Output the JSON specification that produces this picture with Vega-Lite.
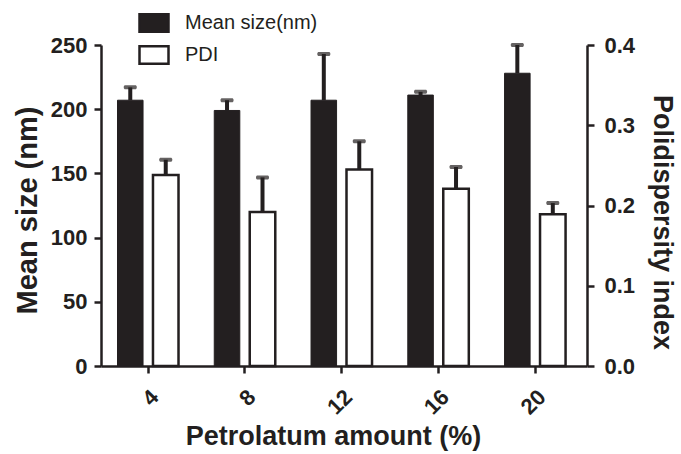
{
  "$schema": "https://vega.github.io/schema/vega-lite/v6.json",
  "width": 486,
  "height": 321,
  "autosize": {"type": "none"},
  "padding": {"left": 101, "top": 45, "right": 94, "bottom": 88},
  "background": "white",
  "config": {
    "view": {"stroke": null},
    "font": "Liberation Sans",
    "axis": {
      "grid": false,
      "domainColor": "#231f20",
      "domainWidth": 2.5,
      "tickColor": "#231f20",
      "tickWidth": 2.5,
      "tickSize": 7,
      "labelFont": "Liberation Sans",
      "labelFontWeight": "bold",
      "labelFontSize": 22,
      "labelColor": "#231f20",
      "titleFont": "Liberation Sans",
      "titleFontWeight": "bold",
      "titleFontSize": 26,
      "titleColor": "#231f20"
    }
  },
  "data": {
    "values": [
      {"amount": "4", "series": "Mean size(nm)", "value": 207, "upper": 217},
      {"amount": "8", "series": "Mean size(nm)", "value": 199, "upper": 207},
      {"amount": "12", "series": "Mean size(nm)", "value": 207, "upper": 243},
      {"amount": "16", "series": "Mean size(nm)", "value": 211, "upper": 213.5},
      {"amount": "20", "series": "Mean size(nm)", "value": 228, "upper": 250},
      {"amount": "4", "series": "PDI", "value": 0.238, "upper": 0.257},
      {"amount": "8", "series": "PDI", "value": 0.192, "upper": 0.235},
      {"amount": "12", "series": "PDI", "value": 0.245, "upper": 0.280},
      {"amount": "16", "series": "PDI", "value": 0.221, "upper": 0.248},
      {"amount": "20", "series": "PDI", "value": 0.189, "upper": 0.203}
    ]
  },
  "encoding": {
    "x": {
      "field": "amount",
      "type": "nominal",
      "sort": ["4", "8", "12", "16", "20"],
      "scale": {"paddingInner": 0.3695, "paddingOuter": 0.196, "align": 0.435},
      "axis": {"title": "Petrolatum amount (%)", "labelAngle": -45, "labelPadding": 13, "titleFontSize": 27, "titleX": 232, "titleY": 57}
    },
    "xOffset": {
      "field": "series",
      "type": "nominal",
      "sort": ["Mean size(nm)", "PDI"],
      "scale": {"paddingInner": 0.28, "paddingOuter": 0}
    }
  },
  "layer": [
    {
      "transform": [{"filter": "datum.series === 'Mean size(nm)'"}],
      "layer": [
        {
          "mark": {"type": "bar", "stroke": "#231f20", "strokeWidth": 1},
          "encoding": {
            "y": {
              "field": "value",
              "type": "quantitative",
              "scale": {"domain": [0, 250], "nice": false},
              "axis": {"title": "Mean size (nm)", "values": [0, 50, 100, 150, 200, 250], "labelPadding": 7, "titlePadding": 8, "titleFontSize": 29, "titleY": 165}
            },
            "fill": {
              "field": "series",
              "type": "nominal",
              "scale": {"domain": ["Mean size(nm)", "PDI"], "range": ["#231f20", "#ffffff"]},
              "legend": {
                "title": null,
                "orient": "none",
                "legendX": 37,
                "legendY": -38,
                "padding": 0,
                "symbolType": "M-1,-0.6H1V0.6H-1Z",
                "symbolSize": 841,
                "symbolStrokeColor": "#231f20",
                "symbolStrokeWidth": 2.5,
                "labelFont": "Liberation Sans",
                "labelFontSize": 20,
                "labelFontWeight": "normal",
                "labelColor": "#231f20",
                "labelOffset": 15,
                "rowPadding": 2
              }
            }
          }
        },
        {
          "mark": {"type": "rule", "color": "#231f20", "strokeWidth": 4},
          "encoding": {
            "y": {"field": "value", "type": "quantitative", "axis": {"title": "Mean size (nm)"}},
            "y2": {"field": "upper"}
          }
        },
        {
          "mark": {"type": "tick", "color": "#231f20", "size": 13, "thickness": 4, "cornerRadius": 1.5},
          "encoding": {
            "y": {"field": "upper", "type": "quantitative", "axis": {"title": "Mean size (nm)"}}
          }
        }
      ]
    },
    {
      "transform": [{"filter": "datum.series === 'PDI'"}],
      "layer": [
        {
          "mark": {"type": "bar", "stroke": "#231f20", "strokeWidth": 2.5},
          "encoding": {
            "y": {
              "field": "value",
              "type": "quantitative",
              "scale": {"domain": [0, 0.4], "nice": false},
              "axis": {"title": "Polidispersity index", "orient": "right", "format": ".1f", "values": [0, 0.1, 0.2, 0.3, 0.4], "labelPadding": 10, "titlePadding": 13, "titleAngle": 90, "titleFontSize": 27, "titleY": 177}
            },
            "fill": {"field": "series", "type": "nominal"}
          }
        },
        {
          "mark": {"type": "rule", "color": "#231f20", "strokeWidth": 4},
          "encoding": {
            "y": {"field": "value", "type": "quantitative", "axis": {"title": "Polidispersity index", "orient": "right"}},
            "y2": {"field": "upper"}
          }
        },
        {
          "mark": {"type": "tick", "color": "#231f20", "size": 13, "thickness": 4, "cornerRadius": 1.5},
          "encoding": {
            "y": {"field": "upper", "type": "quantitative", "axis": {"title": "Polidispersity index", "orient": "right"}}
          }
        }
      ]
    }
  ],
  "resolve": {"scale": {"y": "independent"}}
}
